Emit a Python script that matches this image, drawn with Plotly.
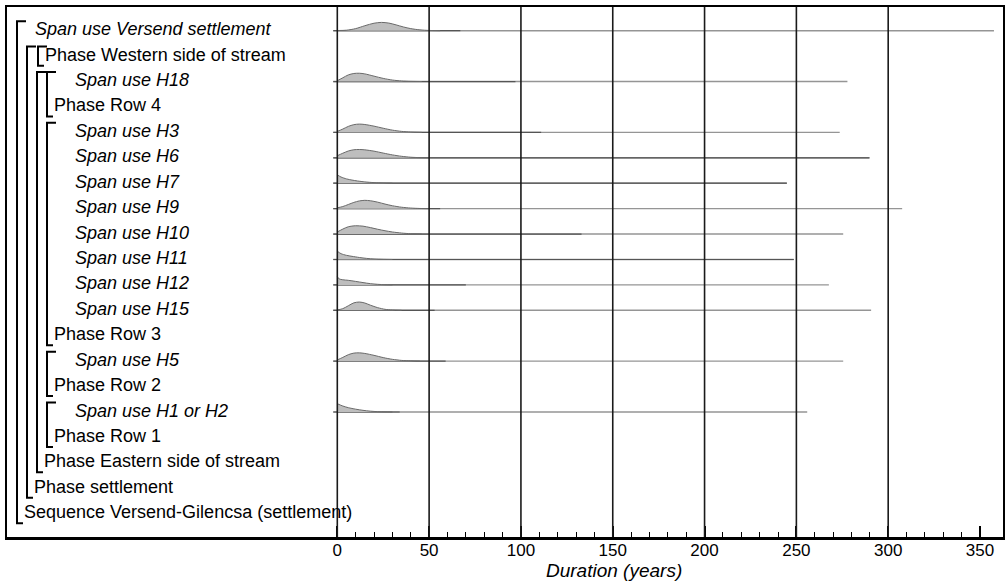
import plotly.graph_objects as go

# ---------------- data ----------------
row_labels = [
    "Span use Versend settlement", "Phase Western side of stream", "Span use H18", "Phase Row 4",
    "Span use H3", "Span use H6", "Span use H7", "Span use H9", "Span use H10", "Span use H11",
    "Span use H12", "Span use H15", "Phase Row 3", "Span use H5", "Phase Row 2",
    "Span use H1 or H2", "Phase Row 1", "Phase Eastern side of stream", "Phase settlement",
    "Sequence Versend-Gilencsa (settlement)",
]

# bracket structure: (label of first row, label of closing row, nesting depth)
brackets = [
    ("Span use Versend settlement", "Sequence Versend-Gilencsa (settlement)", 0),
    ("Phase Western side of stream", "Phase settlement", 1),
    ("Phase Western side of stream", "Phase Western side of stream", 2),
    ("Span use H18", "Phase Eastern side of stream", 2),
    ("Span use H18", "Phase Row 4", 3),
    ("Span use H3", "Phase Row 3", 3),
    ("Span use H5", "Phase Row 2", 3),
    ("Span use H1 or H2", "Phase Row 1", 3),
]

# span durations (years): sampled density shapes (relative height), line end, darker range end
x_versend = [0, 5, 10, 15, 20, 24, 28, 32, 36, 40, 45, 50, 56]
h_versend = [0.02, 0.06, 0.25, 0.6, 0.9, 1.0, 0.92, 0.7, 0.45, 0.25, 0.1, 0.03, 0]
x_h18 = [0, 3, 6, 9, 12, 15, 20, 25, 30, 35, 40, 46]
h_h18 = [0.1, 0.45, 0.8, 0.97, 1.0, 0.92, 0.65, 0.38, 0.18, 0.07, 0.02, 0]
x_h3 = [0, 3, 6, 9, 12, 15, 20, 25, 30, 35, 40, 46]
h_h3 = [0.12, 0.4, 0.72, 0.93, 1.0, 0.95, 0.75, 0.5, 0.27, 0.12, 0.04, 0]
x_h6 = [0, 3, 6, 9, 12, 15, 20, 25, 30, 35, 40, 45, 50]
h_h6 = [0.25, 0.55, 0.82, 0.97, 1.0, 0.96, 0.8, 0.57, 0.35, 0.18, 0.07, 0.02, 0]
x_h7 = [0, 2, 5, 8, 11, 15, 20, 25, 30]
h_h7 = [1.0, 0.75, 0.52, 0.38, 0.27, 0.16, 0.07, 0.02, 0]
x_h9 = [0, 3, 6, 9, 12, 15, 18, 22, 26, 30, 35, 40, 45, 50]
h_h9 = [0.1, 0.25, 0.5, 0.75, 0.93, 1.0, 0.95, 0.78, 0.55, 0.35, 0.17, 0.07, 0.02, 0]
x_h10 = [0, 3, 6, 10, 14, 18, 22, 26, 30, 35, 40, 46]
h_h10 = [0.25, 0.6, 0.88, 1.0, 0.95, 0.78, 0.58, 0.4, 0.25, 0.12, 0.04, 0]
x_h11 = [0, 2, 5, 8, 12, 16, 20, 25, 30]
h_h11 = [1.0, 0.7, 0.5, 0.38, 0.24, 0.13, 0.06, 0.02, 0]
x_h12 = [0, 1, 3, 6, 10, 14, 18, 22, 26, 30]
h_h12 = [1.0, 0.72, 0.62, 0.55, 0.42, 0.28, 0.15, 0.07, 0.02, 0]
x_h15 = [0, 3, 6, 9, 12, 15, 18, 22, 26, 30, 35]
h_h15 = [0.05, 0.2, 0.55, 0.9, 1.0, 0.88, 0.62, 0.32, 0.12, 0.04, 0]
x_h5 = [0, 3, 6, 9, 12, 15, 20, 25, 30, 35, 40, 45]
h_h5 = [0.15, 0.45, 0.78, 0.97, 1.0, 0.93, 0.7, 0.43, 0.22, 0.09, 0.03, 0]
x_h1h2 = [0, 3, 6, 10, 14, 18, 22, 26, 30]
h_h1h2 = [1.0, 0.72, 0.52, 0.34, 0.2, 0.1, 0.04, 0.01, 0]

span_labels = ["Span use Versend settlement", "Span use H18", "Span use H3", "Span use H6",
               "Span use H7", "Span use H9", "Span use H10", "Span use H11", "Span use H12",
               "Span use H15", "Span use H5", "Span use H1 or H2"]
span_x = [x_versend, x_h18, x_h3, x_h6, x_h7, x_h9, x_h10, x_h11, x_h12, x_h15, x_h5, x_h1h2]
span_h = [h_versend, h_h18, h_h3, h_h6, h_h7, h_h9, h_h10, h_h11, h_h12, h_h15, h_h5, h_h1h2]
span_max = [357.6, 277.8, 273.6, 289.8, 244.8, 307.6, 275.5, 248.6, 267.7, 290.7, 275.5, 255.9]
span_range_end = [67, 97, 111, 289.8, 244.8, 56, 133, 248.6, 70, 53, 59, 34]

major_ticks = [0, 50, 100, 150, 200, 250, 300, 350]
grid_years = [0, 50, 100, 150, 200, 250, 300]
minor_ticks = [v for v in range(10, 350, 10) if v % 50 != 0]

# ---------------- layout constants (pixels) ----------------
W, H = 1005, 581
FRAME_L, FRAME_R, FRAME_T, FRAME_B = 7, 1003, 7, 537
X0_PX, PX_PER_YR = 337.3, 1.8363
ROW0_PX, ROW_PX = 30.7, 25.42
FONT = "Liberation Sans, Arial, sans-serif"
PEAK = 8.3 / ROW_PX


def px2x(px):
    return (px - X0_PX) / PX_PER_YR


xrange_ = [px2x(FRAME_L), px2x(FRAME_R)]
yrange_ = [-(FRAME_B - ROW0_PX) / ROW_PX, (ROW0_PX - FRAME_T) / ROW_PX]
row_of = {lab: -i for i, lab in enumerate(row_labels)}

fig = go.Figure()

# span lines and densities
for lab, xs, hs, xmax, rend in zip(span_labels, span_x, span_h, span_max, span_range_end):
    b = row_of[lab]
    fig.add_trace(go.Scatter(x=[-2.2, xmax], y=[b, b], mode="lines",
                             line=dict(color="#959595", width=1.4), hoverinfo="skip", showlegend=False))
    fig.add_trace(go.Scatter(x=[-2.2, rend], y=[b, b], mode="lines",
                             line=dict(color="#555555", width=1.2), hoverinfo="skip", showlegend=False))
    fig.add_trace(go.Scatter(x=[xs[0], xs[-1]], y=[b, b], mode="lines",
                             line=dict(width=0, color="rgba(0,0,0,0)"), hoverinfo="skip", showlegend=False))
    fig.add_trace(go.Scatter(x=xs, y=[b + h * PEAK for h in hs], mode="lines",
                             line=dict(color="#6a6a6a", width=1, shape="spline", smoothing=0.8),
                             fill="tonexty", fillcolor="#bebebe", hoverinfo="skip", showlegend=False))

shapes = []
# vertical grid lines
for g in grid_years:
    shapes.append(dict(type="line", xref="x", yref="paper", x0=g, x1=g, y0=0, y1=1,
                       line=dict(color="#1a1a1a", width=1.6), layer="above"))

# brackets
for first, last, depth in brackets:
    bx = 17 + 10 * depth + (1 if (first == last) else 0)
    top = row_of[first] + 0.375
    bot = row_of[last] - 0.375
    x0 = px2x(bx)
    shapes.append(dict(type="path", xref="x", yref="y",
                       path=f"M {px2x(bx + 9)},{top} L {x0},{top} L {x0},{bot} L {px2x(bx + 6)},{bot}",
                       line=dict(color="black", width=2)))

# labels
annotations = []
for i, lab in enumerate(row_labels):
    if lab.startswith("Span"):
        indent = 33 if lab == "Span use Versend settlement" else 73
        txt = f"<i>{lab}</i>"
    else:
        if lab.startswith("Sequence"):
            indent = 22
        elif lab == "Phase settlement":
            indent = 32
        elif lab.startswith("Phase Western"):
            indent = 43
        elif lab.startswith("Phase Eastern"):
            indent = 42
        else:
            indent = 52
        txt = lab
    annotations.append(dict(x=px2x(indent), y=-i, xref="x", yref="y", text=txt, showarrow=False,
                            xanchor="left", yanchor="middle", yshift=1.5,
                            font=dict(family=FONT, size=18, color="black")))

annotations.append(dict(x=px2x(614), y=-(570 - FRAME_B) / (FRAME_B - FRAME_T), xref="x", yref="paper",
                        text="<i>Duration (years)</i>", showarrow=False, xanchor="center", yanchor="middle",
                        font=dict(family=FONT, size=19, color="black")))

fig.update_layout(
    width=W, height=H,
    margin=dict(l=FRAME_L, r=W - FRAME_R, t=FRAME_T, b=H - FRAME_B, autoexpand=False),
    paper_bgcolor="white", plot_bgcolor="white",
    shapes=shapes, annotations=annotations, showlegend=False,
    xaxis=dict(range=xrange_, showgrid=False, zeroline=False, showline=True, mirror=True,
               linecolor="black", linewidth=2.5, ticks="inside", ticklen=11, tickwidth=2,
               tickcolor="black", tickmode="array", tickvals=major_ticks,
               ticktext=[str(v) for v in major_ticks], ticklabelstandoff=-4,
               tickfont=dict(family=FONT, size=17, color="black"),
               minor=dict(tickmode="array", tickvals=minor_ticks, ticks="inside", ticklen=5,
                          tickwidth=1, tickcolor="black", showgrid=False),
               fixedrange=True),
    yaxis=dict(range=yrange_, showgrid=False, zeroline=False, showline=True, mirror=True,
               linecolor="black", linewidth=2.5, showticklabels=False, ticks="", fixedrange=True),
)

fig.write_html("out.html", config={"displayModeBar": False, "staticPlot": True},
               post_script="document.body.style.margin='0';document.body.style.overflow='hidden';")
